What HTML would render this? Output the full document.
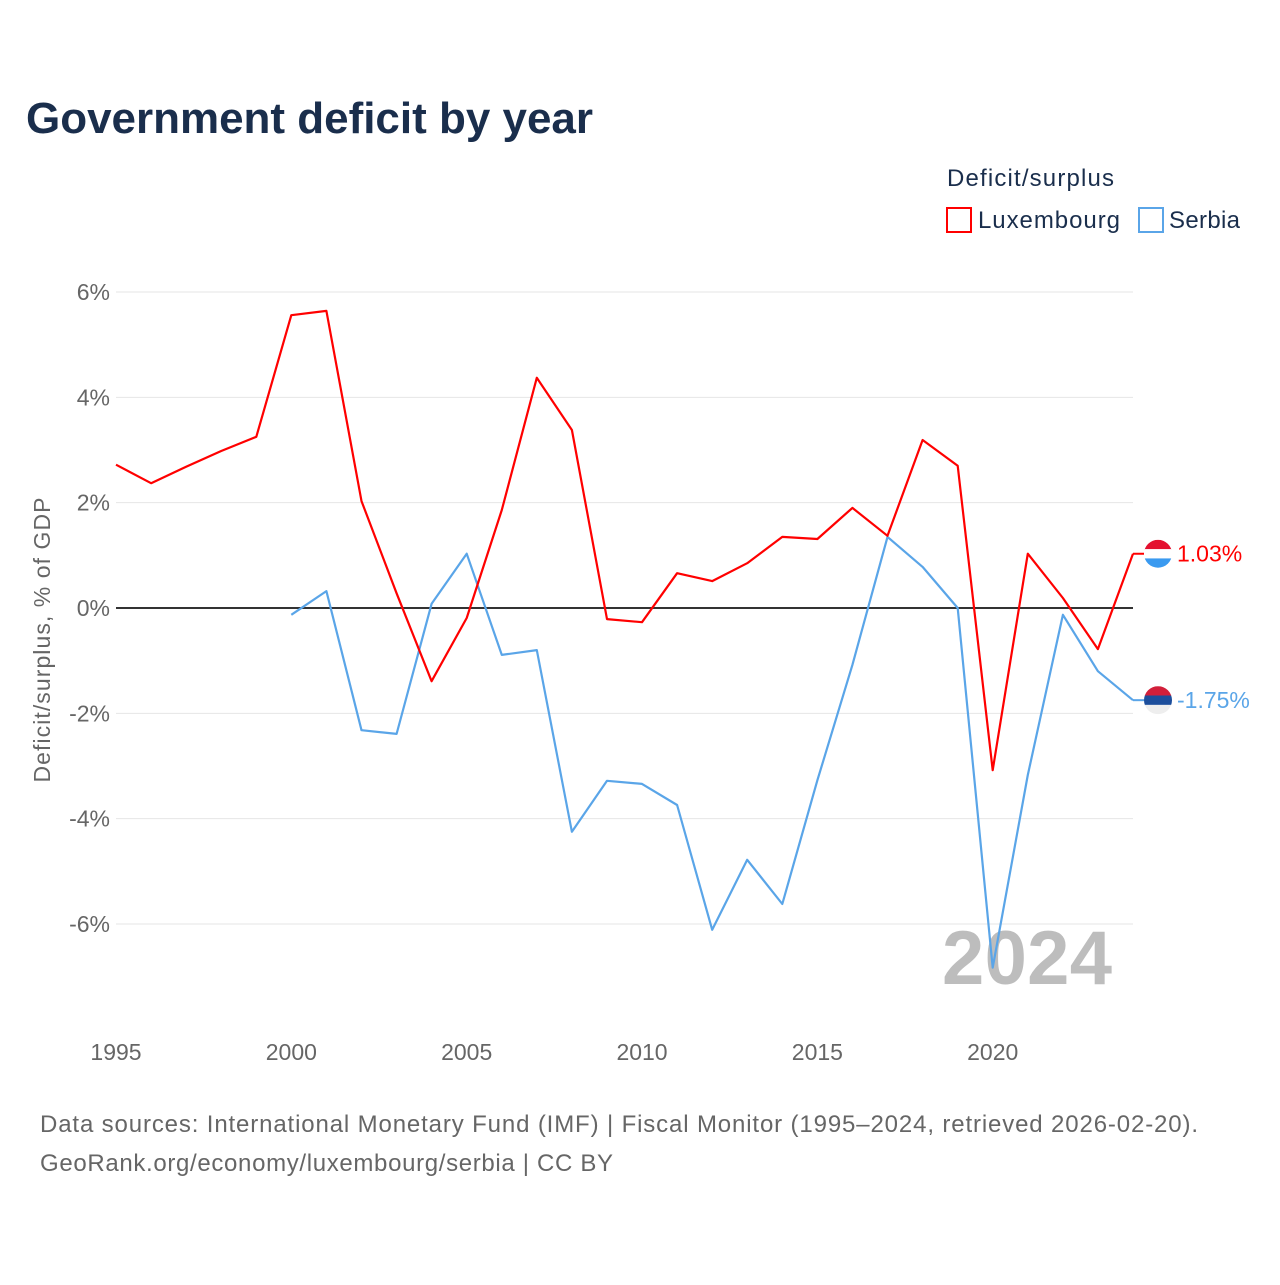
<!DOCTYPE html>
<html><head><meta charset="utf-8"><style>
body{margin:0;background:#fff;font-family:"Liberation Sans",sans-serif;}
</style></head><body>
<svg width="1280" height="1280" xmlns="http://www.w3.org/2000/svg" style="font-family:'Liberation Sans',sans-serif">
<text x="26" y="133" font-size="44" font-weight="bold" fill="#1a2e4c" textLength="567">Government deficit by year</text>
<g>
<text x="947" y="186" font-size="24" fill="#1a2e4c" textLength="167">Deficit/surplus</text>
<g><rect x="947" y="208" width="24" height="24" fill="none" stroke="#ff0000" stroke-width="2"/><text x="978" y="228" font-size="24" fill="#1a2e4c" textLength="142">Luxembourg</text></g>
<g><rect x="1139" y="208" width="24" height="24" fill="none" stroke="#5aa5e8" stroke-width="2"/><text x="1169" y="228" font-size="24" fill="#1a2e4c" textLength="71">Serbia</text></g>
</g>
<g id="grid"></g>
<g id="yticks"></g>
<g id="xticks"></g>
<text transform="translate(50,640) rotate(-90)" text-anchor="middle" font-size="23" fill="#666" textLength="285">Deficit/surplus, % of GDP</text>
<text x="1112" y="984" text-anchor="end" font-size="76" font-weight="bold" fill="#bdbdbd" textLength="170">2024</text>
<g id="series"></g>
<g id="endlabels"></g>
<text x="40" y="1132" font-size="24" fill="#666" textLength="1158">Data sources: International Monetary Fund (IMF) | Fiscal Monitor (1995–2024, retrieved 2026-02-20).</text>
<text x="40" y="1171" font-size="24" fill="#666" textLength="573">GeoRank.org/economy/luxembourg/serbia | CC BY</text>
</svg>
<script>
const years=[1995,1996,1997,1998,1999,2000,2001,2002,2003,2004,2005,2006,2007,2008,2009,2010,2011,2012,2013,2014,2015,2016,2017,2018,2019,2020,2021,2022,2023,2024];
const luxembourg=[2.72,2.37,2.68,2.98,3.25,5.56,5.64,2.03,0.28,-1.39,-0.19,1.86,4.37,3.38,-0.21,-0.27,0.66,0.51,0.85,1.35,1.31,1.90,1.37,3.19,2.70,-3.08,1.03,0.19,-0.78,1.03];
const serbia=[null,null,null,null,null,-0.13,0.32,-2.32,-2.39,0.08,1.03,-0.89,-0.80,-4.25,-3.28,-3.34,-3.74,-6.11,-4.78,-5.62,-3.27,-1.08,1.35,0.78,0,-6.83,-3.17,-0.13,-1.2,-1.75];
const yTicks=[6,4,2,0,-2,-4,-6];
const xTicks=[1995,2000,2005,2010,2015,2020];
const NS="http://www.w3.org/2000/svg";
const X=y=>116+(y-1995)*(1133-116)/29;
const Y=v=>608-v*52.67;
function mk(t,a,p){const e=document.createElementNS(NS,t);for(const k in a)e.setAttribute(k,a[k]);p.appendChild(e);return e;}
const grid=document.getElementById('grid'),yt=document.getElementById('yticks'),xt=document.getElementById('xticks');
yTicks.forEach(v=>{
 const l=mk('line',{x1:116,x2:1133,y1:Y(v),y2:Y(v),stroke:v===0?'#333':'#e6e6e6','stroke-width':v===0?2:1},grid);
 
 
 const t=mk('text',{x:110,y:Y(v)+8,'text-anchor':'end','font-size':23,fill:'#666'},yt);
 t.textContent=v+'%';
 
 
});
xTicks.forEach(y=>{
 const t=mk('text',{x:X(y),y:1060,'text-anchor':'middle','font-size':23,fill:'#666'},xt);
 t.textContent=y;
 
 
});
const s=document.getElementById('series');
function line(arr,color,name){
 let d='';arr.forEach((v,i)=>{if(v===null)return;d+=(d?'L':'M')+X(years[i]).toFixed(1)+','+Y(v).toFixed(1);});
 const p=mk('path',{d:d,fill:'none',stroke:color,'stroke-width':2.2,'stroke-linejoin':'round'},s);
 
 
}
line(serbia,'#5aa5e8','line-serbia');
line(luxembourg,'#ff0000','line-luxembourg');
const el=document.getElementById('endlabels');
function flag(v,cols,color,name){
 const cx=1158,cy=Y(v);
 const g=mk('g',{},el);
 
 
 mk('line',{x1:1133,x2:1144,y1:cy,y2:cy,stroke:color,'stroke-width':2},g);
 const id='c'+name;
 const cp=mk('clipPath',{id:id},g);mk('circle',{cx:cx,cy:cy,r:14},cp);
 cols.forEach((c,i)=>mk('rect',{x:cx-14,y:cy-14+i*28/3,width:28,height:28/3+0.5,fill:c,'clip-path':'url(#'+id+')'},g));
 const t=mk('text',{x:1177,y:cy+8,'font-size':23,fill:color},el);
 t.textContent=v.toFixed(2)+'%';
 
 
}
flag(luxembourg[luxembourg.length-1],['#e4102f','#fff','#3a9af0'],'#ff0000','luxembourg');
flag(serbia[serbia.length-1],['#d21f3a','#1c4e9c','#eee'],'#5aa5e8','serbia');
</script>
</body></html>
